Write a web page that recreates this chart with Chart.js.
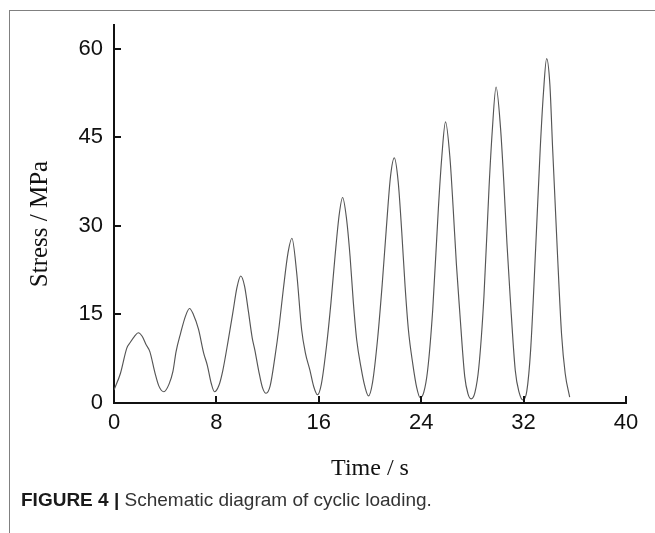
<!DOCTYPE html>
<html>
<head>
<meta charset="utf-8">
<script src="https://cdn.jsdelivr.net/npm/chart.js@4.4.1/dist/chart.umd.min.js"></script>
<style>
    body { margin: 0; background: #fff; }
    #wrap { position: relative; width: 655px; height: 533px; overflow: hidden; }
    #frame {
        position: absolute; left: 9px; top: 10px; right: 0; bottom: 0;
        border-top: 1px solid #808080; border-left: 1px solid #808080;
    }
    #chart { position: absolute; left: 0; top: 0; }
    #caption {
        position: absolute; left: 21px; top: 490px;
        font-family: "Liberation Sans", Arial, sans-serif; font-size: 19px;
        line-height: 20px; color: #333; white-space: nowrap;
    }
    #caption b { color: #1a1a1a; }
</style>
</head>
<body>
<div id="wrap">
    <div id="frame"></div>
    <canvas id="chart" width="655" height="533"></canvas>
    <div id="caption"><b>FIGURE 4 |</b> Schematic diagram of cyclic loading.</div>
</div>
<script>
// Время (с) и напряжение (МПа)
const times = [
    0, 0.5, 1.0, 1.25, 1.6, 1.9, 2.2, 2.5, 2.8, 3.2, 3.5,
    3.9, 4.3, 4.6, 4.85, 5.2, 5.6, 5.9, 6.2, 6.6, 7.0, 7.3, 7.6,
    7.85, 8.2, 8.5, 8.93, 9.3, 9.6, 9.9, 10.2, 10.5, 10.8, 11.0, 11.3, 11.6,
    11.88, 12.2, 12.58, 12.9, 13.23, 13.6, 13.9, 14.27, 14.66, 14.95, 15.3, 15.6,
    15.9, 16.2, 16.6, 16.95, 17.27, 17.6, 17.86, 18.15, 18.44, 18.7, 18.96, 19.3, 19.6,
    19.88, 20.2, 20.6, 20.95, 21.27, 21.6, 21.9, 22.2, 22.48, 22.74, 23.0, 23.35, 23.65,
    23.92, 24.2, 24.5, 24.9, 25.34, 25.6, 25.9, 26.25, 26.5, 26.75, 27.0, 27.4, 27.65,
    27.9, 28.2, 28.5, 28.9, 29.3, 29.55, 29.85, 30.2, 30.45, 30.7, 30.95, 31.35, 31.65,
    31.95, 32.25, 32.55, 32.94, 33.3, 33.55, 33.8, 34.05, 34.27, 34.63, 34.97, 35.25, 35.6
];
const stress = [
    2.2, 5.0, 9.3, 10.2, 11.3, 11.9, 11.3, 9.9, 8.7, 5.1, 2.9,
    1.9, 3.2, 5.3, 8.7, 11.8, 14.8, 16.0, 15.0, 12.5, 8.5, 6.3, 3.3,
    1.9, 3.0, 5.5, 10.7, 15.5, 19.5, 21.5, 19.8, 15.5, 11.0, 9.0, 5.5, 2.6,
    1.65, 2.9, 7.9, 13.0, 19.3, 25.5, 27.9, 22.1, 12.4, 8.5, 5.6, 2.8,
    1.4, 3.2, 9.6, 17.0, 24.9, 32.0, 34.8, 31.5, 24.9, 17.0, 10.7, 6.0, 2.8,
    1.2, 3.5, 11.0, 20.0, 29.4, 38.3, 41.5, 37.5, 29.0, 19.8, 12.4, 6.5, 2.6,
    0.9, 1.8, 5.5, 15.8, 32.9, 41.4, 47.6, 41.4, 32.9, 23.5, 15.8, 4.5, 1.6,
    0.7, 1.8, 6.0, 18.0, 36.5, 46.0, 53.5, 46.5, 37.5, 27.0, 18.0, 5.5, 1.8,
    0.5, 2.0, 9.0, 26.1, 43.1, 52.5, 58.3, 54.0, 43.0, 26.0, 11.5, 5.0, 1.0
];
const xTicks = [0, 8, 16, 24, 32, 40];
const yTicks = [0, 15, 30, 45, 60];
const yTitle = 'Stress / MPa';

const axisColor = '#111';

// Засечки внутрь области графика и подпись оси Y
const inwardTicks = {
    id: 'inwardTicks',
    afterDraw(chart) {
        const { ctx, chartArea, scales } = chart;
        ctx.save();
        ctx.strokeStyle = axisColor;
        ctx.lineWidth = 2;
        ctx.beginPath();
        xTicks.forEach(v => {
            const px = Math.round(scales.x.getPixelForValue(v));
            ctx.moveTo(px, chartArea.bottom);
            ctx.lineTo(px, chartArea.bottom - 7);
        });
        yTicks.forEach(v => {
            const py = Math.round(scales.y.getPixelForValue(v));
            ctx.moveTo(chartArea.left, py);
            ctx.lineTo(chartArea.left + 7, py);
        });
        ctx.stroke();

        // подпись оси Y чуть ниже центра, как в оригинале
        ctx.translate(40, 224);
        ctx.rotate(-Math.PI / 2);
        ctx.fillStyle = '#111';
        ctx.font = '25px "Liberation Serif"';
        ctx.textAlign = 'center';
        ctx.textBaseline = 'middle';
        ctx.fillText(yTitle, 0, 0);
        ctx.restore();
    }
};

new Chart(document.getElementById('chart'), {
    type: 'line',
    data: {
        datasets: [{
            data: times.map((t, i) => ({ x: t, y: stress[i] })),
            borderColor: '#555',
            borderWidth: 1.15,
            pointRadius: 0,
            fill: false,
            cubicInterpolationMode: 'monotone'
        }]
    },
    options: {
        responsive: false,
        animation: false,
        devicePixelRatio: 1,
        layout: { padding: { left: 21, top: 25, right: 29, bottom: 50 } },
        plugins: {
            legend: { display: false },
            tooltip: { enabled: false }
        },
        scales: {
            x: {
                type: 'linear',
                min: 0,
                max: 40,
                afterBuildTicks: s => { s.ticks = xTicks.map(v => ({ value: v })); },
                afterFit: s => { s.height = 80; },
                grid: { display: false, drawTicks: false },
                border: { display: true, color: axisColor, width: 2 },
                ticks: {
                    color: '#111',
                    padding: 7,
                    maxRotation: 0,
                    font: { family: 'Liberation Sans', size: 22 }
                },
                title: {
                    display: true,
                    text: 'Time / s',
                    color: '#111',
                    padding: { top: 0, bottom: 0 },
                    font: { family: 'Liberation Serif', size: 24 }
                }
            },
            y: {
                type: 'linear',
                min: 0,
                max: 64,
                afterBuildTicks: s => { s.ticks = yTicks.map(v => ({ value: v })); },
                afterFit: s => { s.width = 93; },
                grid: { display: false, drawTicks: false },
                border: { display: true, color: axisColor, width: 2 },
                ticks: {
                    color: '#111',
                    padding: 11,
                    font: { family: 'Liberation Sans', size: 22 }
                }
            }
        }
    },
    plugins: [inwardTicks]
});
</script>
</body>
</html>
